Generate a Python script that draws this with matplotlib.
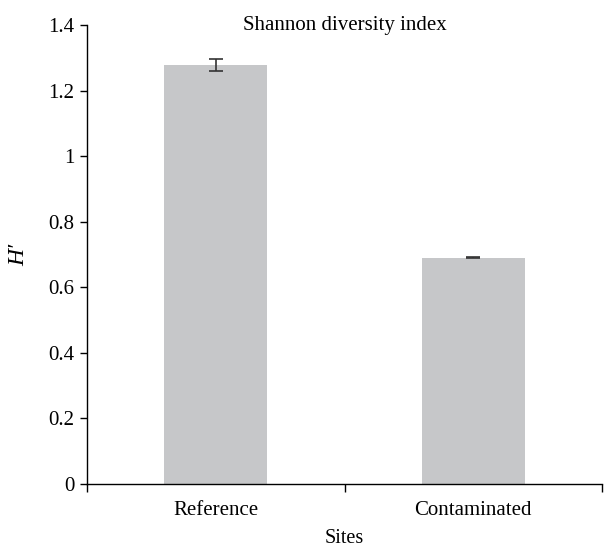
import numpy as np
import matplotlib.pyplot as plt

plt.rcParams['font.family'] = ['Liberation Serif', 'DejaVu Serif']

# data
sites = ['Reference', 'Contaminated']
shannon = [1.277, 0.690]
shannon_err = [0.018, 0.002]
ytick_labels = ['0', '0.2', '0.4', '0.6', '0.8', '1', '1.2', '1.4']

fig = plt.figure(figsize=(6.1, 5.48), dpi=100)
ax = fig.add_axes([0.1426, 0.1168, 0.8444, 0.8376])

x = np.arange(len(sites))
ax.bar(x, shannon, width=0.4, color='#c6c7c9', yerr=shannon_err,
       error_kw=dict(ecolor='#333333', elinewidth=1.2, capsize=5, capthick=1.2))

ax.set_xlim(-0.5, 1.5)
ax.set_ylim(0, 1.4)
ax.set_yticks(np.arange(0, 1.41, 0.2))
ax.set_yticklabels(ytick_labels)
ax.set_xticks([-0.5, 0.5, 1.5])
ax.set_xticklabels([])
ax.set_xticks(x, minor=True)
ax.set_xticklabels(sites, minor=True)
ax.tick_params(axis='x', which='minor', length=0, pad=12, labelsize=15)
ax.tick_params(axis='x', which='major', direction='out', length=6, width=1)
ax.tick_params(axis='y', direction='out', length=5, width=1, labelsize=15, pad=4)

for side in ['top', 'right']:
    ax.spines[side].set_visible(False)
for side in ['left', 'bottom']:
    ax.spines[side].set_linewidth(1)

ax.set_xlabel('Sites', fontsize=14.5, labelpad=7)
ax.set_ylabel('H\u2032', fontsize=17, style='italic', labelpad=14)
ax.set_title('Shannon diversity index', fontsize=15, y=0.99, pad=0)

fig.savefig('out.png', dpi=100)
